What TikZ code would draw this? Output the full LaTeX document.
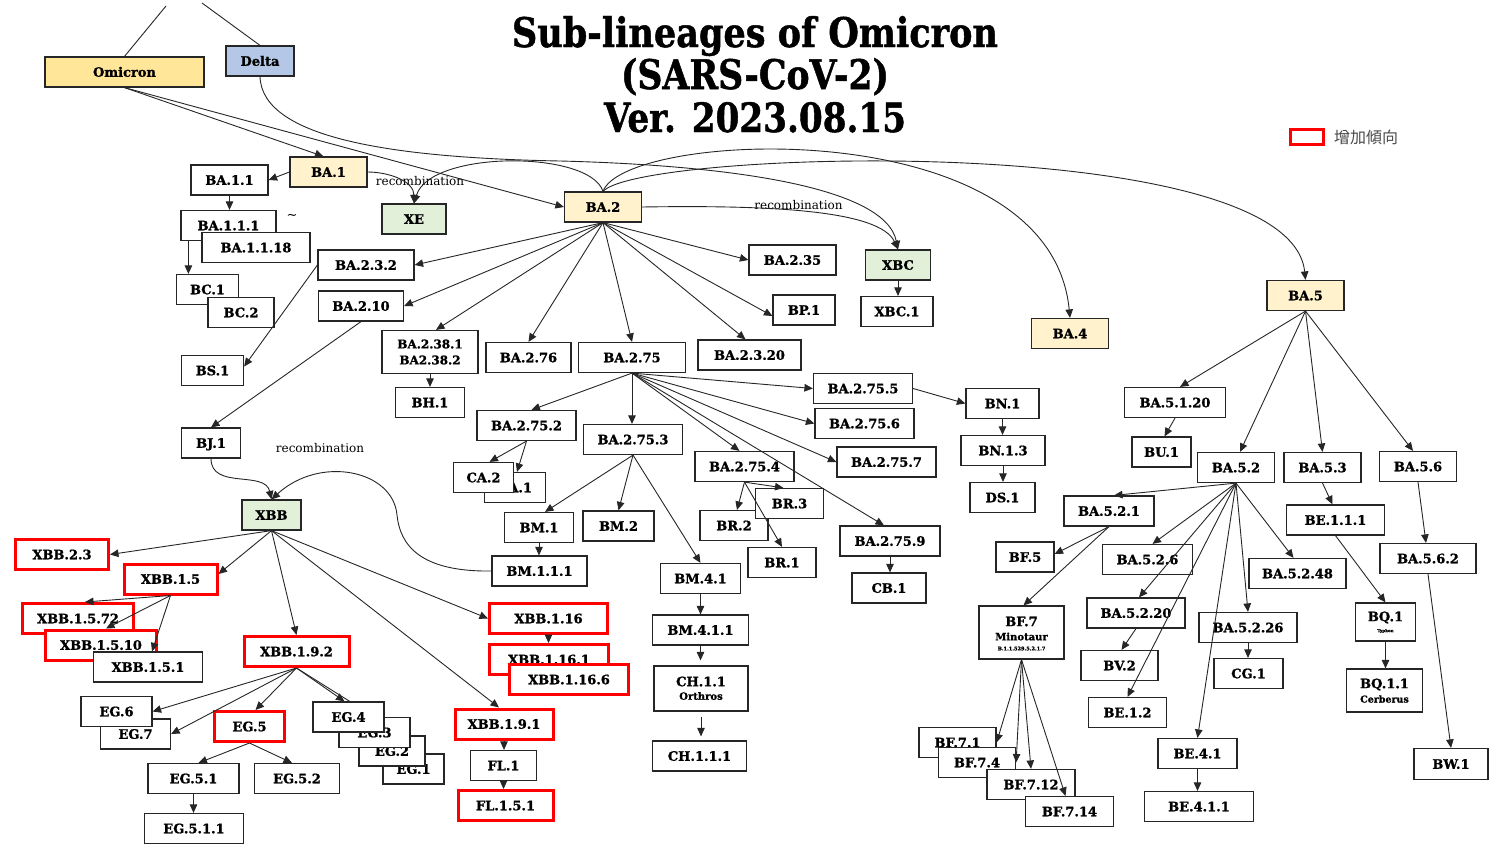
\documentclass[tikz,border=0pt]{standalone}
\usepackage{graphicx}
\usepackage{fontspec}
\setmainfont{DejaVu Serif}[BoldFeatures={FakeBold=1.2}]
\newfontfamily\cjkfont{Noto Sans CJK JP}
\usetikzlibrary{arrows.meta}
\definecolor{omicronfill}{HTML}{FFE699}
\definecolor{deltafill}{HTML}{B4C7E7}
\definecolor{basefill}{HTML}{FFF2CC}
\definecolor{recfill}{HTML}{E2F0D9}
\definecolor{edgegray}{HTML}{262626}
\definecolor{hotred}{HTML}{FF0000}
\begin{document}
\begin{tikzpicture}[x=1pt,y=-1pt,
  box/.style={draw=edgegray,line width=1.2pt,fill=white,inner sep=1pt,align=center,
    font=\bfseries\fontsize{13}{15}\selectfont},
  lbl/.style={box,minimum height=30pt,text height=9.5pt,text depth=0pt},
  mw/.style={minimum width=#1},
  hot/.style={draw=hotred,line width=3pt},
  omi/.style={fill=omicronfill},
  dlt/.style={fill=deltafill},
  major/.style={fill=basefill},
  recomb/.style={fill=recfill},
  txt/.style={inner sep=0pt,font=\bfseries\fontsize{13}{15}\selectfont},
  note/.style={inner sep=0pt,font=\fontsize{12}{14}\selectfont},
  lin/.style={draw=edgegray,line width=0.9pt},
  arr/.style={lin,-{Triangle[length=8.5pt,width=7.5pt]}}
]
\useasboundingbox (0,0) rectangle (1489,844);

% ---------- title and legend ----------
\node[anchor=base,inner sep=0pt] (title1) at (755,47)
  {\resizebox{486pt}{31pt}{\bfseries\fontsize{40}{44}\selectfont Sub-lineages of Omicron}};
\node[anchor=base,inner sep=0pt] (title2) at (755,89)
  {\resizebox{268pt}{31pt}{\bfseries\fontsize{40}{44}\selectfont (SARS-CoV-2)}};
\node[anchor=base,inner sep=0pt] (title3) at (755,132)
  {\resizebox{302pt}{30pt}{\bfseries\fontsize{40}{44}\selectfont Ver. 2023.08.15}};
\node[draw=hotred,line width=3pt,minimum width=33pt,minimum height=15pt,inner sep=0pt] (legbox) at (1306.5,136.5) {};
\node[anchor=west,inner sep=0pt,text=black!70,font=\cjkfont\fontsize{16}{18}\selectfont] (legtext) at (1334,137) {增加傾向};

% ---------- roots ----------
\node[lbl,omi,mw=159pt] (O) at (124.5,72) {Omicron};
\node[lbl,dlt,mw=68pt] (D) at (260,61) {Delta};
\coordinate (Otop) at (166,6);
\coordinate (Dtop) at (202,3);

% ---------- BA.1 branch ----------
\node[lbl,major,mw=77pt] (BA1) at (328.5,172) {BA.1};
\node[lbl,mw=77pt] (BA11) at (229.5,180) {BA.1.1};
\node[lbl,mw=95pt] (BA111) at (228.5,225.5) {BA.1.1.1};
\node[lbl,mw=108pt] (BA1118) at (256,247.5) {BA.1.1.18};
\node[note,font=\fontsize{13}{15}\selectfont] (tilde) at (292,217) {\textasciitilde};
\node[lbl,mw=62pt] (BC1) at (207.5,289.5) {BC.1};
\node[lbl,mw=66pt] (BC2) at (241,312.5) {BC.2};
\node[lbl,recomb,mw=64pt] (XE) at (414,219) {XE};
\node[note] (rec1) at (420,181) {recombination};

% ---------- BA.2 branch ----------
\node[lbl,major,mw=77pt] (BA2) at (603,207) {BA.2};
\node[lbl,mw=96pt] (BA232) at (366,265) {BA.2.3.2};
\node[lbl,mw=85pt] (BA210) at (361,306) {BA.2.10};
\node[box,mw=96pt,minimum height=43pt,font=\bfseries\fontsize{12}{16}\selectfont] (BA238) at (430,352) {BA.2.38.1\\BA2.38.2};
\node[lbl,mw=85pt] (BA276) at (528.5,357.5) {BA.2.76};
\node[lbl,mw=107pt] (BA275) at (632,357.5) {BA.2.75};
\node[lbl,mw=103pt] (BA2320) at (749.5,355) {BA.2.3.20};
\node[lbl,mw=87pt] (BA235) at (792.5,260) {BA.2.35};
\node[lbl,mw=62pt] (BP1) at (804,310) {BP.1};
\node[lbl,recomb,mw=65pt] (XBC) at (898,265) {XBC};
\node[lbl,mw=72pt] (XBC1) at (897,311.5) {XBC.1};
\node[note] (rec2) at (798.5,205) {recombination};
\node[lbl,mw=62pt] (BS1) at (212.5,370.5) {BS.1};
\node[lbl,mw=69pt] (BH1) at (430,402.5) {BH.1};
\node[lbl,mw=59pt] (BJ1) at (211,443) {BJ.1};
\node[note] (rec3) at (320,448) {recombination};

% ---------- BA.2.75 branch ----------
\node[lbl,mw=99pt] (BA2755) at (863,388.5) {BA.2.75.5};
\node[lbl,mw=99pt] (BA2756) at (864.5,423.5) {BA.2.75.6};
\node[lbl,mw=99pt] (BA2757) at (886.5,462) {BA.2.75.7};
\node[lbl,mw=99pt] (BA2752) at (526.5,425.5) {BA.2.75.2};
\node[lbl,mw=99pt] (BA2753) at (633,439.5) {BA.2.75.3};
\node[lbl,mw=99pt] (BA2754) at (744.5,466.5) {BA.2.75.4};
\node[lbl,mw=61pt] (CA1) at (515,487.5) {CA.1};
\node[lbl,mw=60pt] (CA2) at (483.5,477.5) {CA.2};
\node[lbl,mw=69pt] (BM1) at (539,527.5) {BM.1};
\node[lbl,mw=71pt] (BM2) at (618.5,526) {BM.2};
\node[lbl,mw=95pt] (BM111) at (539.5,571) {BM.1.1.1};
\node[lbl,mw=80pt] (BM41) at (700.5,578.5) {BM.4.1};
\node[lbl,mw=96pt] (BM411) at (700.5,630) {BM.4.1.1};
\node[box,mw=94pt,minimum height=45pt] (CH11) at (701,688.5) {};
\node[txt] (CH11a) at (701,681.5) {CH.1.1};
\node[txt,font=\bfseries\fontsize{10}{12}\selectfont] (CH11b) at (701,696) {Orthros};
\node[lbl,mw=94pt] (CH111) at (699.5,756) {CH.1.1.1};
\node[lbl,mw=68pt] (BR2) at (734,525.5) {BR.2};
\node[lbl,mw=68pt] (BR3) at (789.5,503.5) {BR.3};
\node[lbl,mw=68pt] (BR1) at (782,562.5) {BR.1};
\node[lbl,mw=100pt] (BA2759) at (890,541) {BA.2.75.9};
\node[lbl,mw=74pt] (CB1) at (889,588) {CB.1};
\node[lbl,mw=73pt] (BN1) at (1002.5,403.5) {BN.1};
\node[lbl,mw=84pt] (BN13) at (1003,450.5) {BN.1.3};
\node[lbl,mw=65pt] (DS1) at (1002.5,497.5) {DS.1};

% ---------- XBB branch ----------
\node[lbl,recomb,mw=59pt] (XBB) at (271.5,515) {XBB};
\node[lbl,hot,mw=93pt] (XBB23) at (62,554.5) {XBB.2.3};
\node[lbl,hot,mw=93pt] (XBB15) at (170.5,579) {XBB.1.5};
\node[lbl,hot,mw=111pt] (XBB1572) at (78,618.5) {XBB.1.5.72};
\node[lbl,hot,mw=111pt] (XBB1510) at (101,645) {XBB.1.5.10};
\node[lbl,mw=109pt] (XBB151) at (148,667) {XBB.1.5.1};
\node[lbl,hot,mw=105pt] (XBB192) at (296.5,651.5) {XBB.1.9.2};
\node[lbl,mw=70pt] (EG7) at (135.5,734) {EG.7};
\node[lbl,mw=71pt] (EG6) at (116.5,711.5) {EG.6};
\node[lbl,hot,mw=70pt] (EG5) at (249.5,726.5) {EG.5};
\node[lbl,mw=61pt] (EG1) at (413.5,769) {EG.1};
\node[lbl,mw=66pt] (EG2) at (392,751) {EG.2};
\node[lbl,mw=71pt] (EG3) at (374.5,732.5) {EG.3};
% this connector is meant to run underneath EG.4
\draw[arr] (XBB192.south) -- (EG3.north);
\node[lbl,mw=71pt] (EG4) at (348.5,717) {EG.4};
\node[lbl,mw=91pt] (EG51) at (193.5,778.5) {EG.5.1};
\node[lbl,mw=85pt] (EG52) at (297,778.5) {EG.5.2};
\node[lbl,mw=99pt] (EG511) at (194,828.5) {EG.5.1.1};
\node[lbl,hot,mw=118pt] (XBB116) at (548.5,618.5) {XBB.1.16};
\node[lbl,hot,mw=119pt] (XBB1161) at (549,659.5) {XBB.1.16.1};
\node[lbl,hot,mw=119pt] (XBB1166) at (569,679.5) {XBB.1.16.6};
\node[lbl,hot,mw=98pt] (XBB191) at (504,724) {XBB.1.9.1};
\node[lbl,mw=66pt] (FL1) at (503.5,765.5) {FL.1};
\node[lbl,hot,mw=95pt] (FL151) at (505.5,805.5) {FL.1.5.1};

% ---------- BA.4 / BA.5 branch ----------
\node[lbl,major,mw=77pt] (BA4) at (1070,333.5) {BA.4};
\node[lbl,major,mw=77pt] (BA5) at (1305.5,295.5) {BA.5};
\node[lbl,mw=101pt] (BA5120) at (1175,402.5) {BA.5.1.20};
\node[lbl,mw=59pt] (BU1) at (1161.5,452) {BU.1};
\node[lbl,mw=77pt] (BA52) at (1236,467.5) {BA.5.2};
\node[lbl,mw=77pt] (BA53) at (1322.5,467.5) {BA.5.3};
\node[lbl,mw=77pt] (BA56) at (1418,466.5) {BA.5.6};
\node[lbl,mw=90pt] (BA521) at (1109,511) {BA.5.2.1};
\node[lbl,mw=98pt] (BE111) at (1335.5,520) {BE.1.1.1};
\node[lbl,mw=58pt] (BF5) at (1025,557) {BF.5};
\node[lbl,mw=90pt] (BA526) at (1147.5,559.5) {BA.5.2.6};
\node[lbl,mw=97pt] (BA5248) at (1297.5,573.5) {BA.5.2.48};
\node[lbl,mw=96pt] (BA562) at (1428,558.5) {BA.5.6.2};
\node[box,mw=85pt,minimum height=53pt] (BF7) at (1021.5,632.5) {};
\node[txt] (BF7a) at (1021.5,621.5) {BF.7};
\node[txt,font=\bfseries\fontsize{10}{12}\selectfont] (BF7b) at (1021.5,636.5) {Minotaur};
\node[txt,font=\bfseries\fontsize{5}{6}\selectfont] (BF7c) at (1021.5,648.5) {B.1.1.529.5.2.1.7};
\node[lbl,mw=98pt] (BA5220) at (1136,613) {BA.5.2.20};
\node[lbl,mw=77pt] (BV2) at (1119.5,665.5) {BV.2};
\node[lbl,mw=78pt] (BE12) at (1127.5,712.5) {BE.1.2};
\node[lbl,mw=98pt] (BA5226) at (1248,627.5) {BA.5.2.26};
\node[lbl,mw=69pt] (CG1) at (1248.5,673.5) {CG.1};
\node[box,mw=60pt,minimum height=38pt] (BQ1) at (1385.5,622) {};
\node[txt] (BQ1a) at (1385.5,617.5) {BQ.1};
\node[txt,font=\bfseries\fontsize{4}{5}\selectfont] (BQ1b) at (1385.5,631) {Typhon};
\node[box,mw=76pt,minimum height=43pt] (BQ11) at (1384.5,690.5) {};
\node[txt] (BQ11a) at (1384.5,684.5) {BQ.1.1};
\node[txt,font=\bfseries\fontsize{9.5}{11}\selectfont] (BQ11b) at (1384.5,699) {Cerberus};
\node[lbl,mw=74pt,minimum height=31pt] (BW1) at (1451,764) {BW.1};
\node[lbl,mw=79pt] (BE41) at (1197.5,753.5) {BE.4.1};
\node[lbl,mw=109pt] (BE411) at (1199,806.5) {BE.4.1.1};
\node[lbl,mw=77pt] (BF71) at (957.5,742.5) {BF.7.1};
\node[lbl,mw=77pt] (BF74) at (977,762.5) {BF.7.4};
\node[lbl,mw=88pt] (BF712) at (1031,784.5) {BF.7.12};
\node[lbl,mw=88pt] (BF714) at (1069.5,811.5) {BF.7.14};

% ---------- connectors ----------
\draw[lin] (O.north) -- (Otop);
\draw[lin] (D.north) -- (Dtop);
\draw[arr] (O.south) -- ([xshift=-5pt]BA1.north);
\draw[arr] (O.south) -- (BA2.west);
\draw[arr] (D.south) .. controls (262,140) and (400,158) .. (560,161)
  .. controls (720,165) and (885,185) .. (XBC.north);
\draw[arr] (BA1.west) -- (BA11.east);
\draw[arr] (BA1.east) to[out=0,in=90] (XE.north);
\draw[arr] (BA2.north) .. controls (590,150) and (430,150) .. (XE.north);
\draw[arr] (BA2.east) .. controls (770,205) and (880,210) .. (XBC.north);
\draw[arr] (BA2.north) .. controls (625,130) and (1050,110) .. (BA4.north);
\draw[arr] (BA2.north) .. controls (640,150) and (1290,130) .. (BA5.north);
\draw[arr] (BA11.south) -- (BA11.south |- BA111.north);
\draw[arr] ([xshift=8pt]BA111.south west) -- ([xshift=8pt]BA111.south west |- BC1.north);

\draw[arr] (BA2.south) -- (BA232.east);
\draw[arr] (BA2.south) -- (BA210.east);
\draw[arr] (BA2.south) -- ([xshift=6pt]BA238.north);
\draw[arr] (BA2.south) -- (BA276.north);
\draw[arr] (BA2.south) -- (BA275.north);
\draw[arr] (BA2.south) -- ([xshift=-4pt]BA2320.north);
\draw[arr] (BA2.south) -- ([yshift=-6pt]BP1.west);
\draw[arr] (BA2.south) -- (BA235.west);
\draw[arr] (XBC.south) -- (XBC.south |- XBC1.north);
\draw[arr] (BA232.west) -- ([yshift=4pt]BS1.east);
\draw[arr] (BA210.south) -- (BJ1.north);
\draw[arr] (BA238.south) -- (BA238.south |- BH1.north);
\draw[arr] (BJ1.south) .. controls (211,490) and (265,470) .. (XBB.north);
\draw[arr] (BM111.west) .. controls (420,572) and (400,545) .. (397,515)
  .. controls (393,470) and (320,455) .. (XBB.north);

\draw[arr] (BA275.south) -- ([xshift=5pt]BA2752.north);
\draw[arr] (BA275.south) -- (BA275.south |- BA2753.north);
\draw[arr] (BA275.south) -- ([xshift=-5pt]BA2754.north);
\draw[arr] (BA275.south) -- (BA2755.west);
\draw[arr] (BA275.south) -- (BA2756.west);
\draw[arr] (BA275.south) -- (BA2757.west);
\draw[arr] (BA275.south) -- ([xshift=-6pt]BA2759.north);
\draw[arr] (BA2752.south) -- ([xshift=6pt]CA2.north);
\draw[arr] (BA2752.south) -- ([xshift=2pt]CA1.north);
\draw[arr] (BA2753.south) -- ([xshift=6pt]BM1.north);
\draw[arr] (BA2753.south) -- (BM2.north);
\draw[arr] (BA2753.south) -- (BM41.north);
\draw[arr] (BM1.south) -- (BM1.south |- BM111.north);
\draw[arr] (BM41.south) -- (BM41.south |- BM411.north);
\draw[arr,shorten >=5pt] (BM411.south) -- (BM411.south |- CH11.north);
\draw[arr,shorten <=5pt,shorten >=4pt] (CH11.south) -- (CH11.south |- CH111.north);
\draw[arr] (BA2754.south) -- ([xshift=3pt]BR2.north);
\draw[arr] (BA2754.south) -- ([xshift=-6pt]BR3.north);
\draw[arr] (BA2754.south) -- (BR1.north);
\draw[arr] (BA2759.south) -- (BA2759.south |- CB1.north);
\draw[arr] (BA2755.east) -- (BN1.west);
\draw[arr] (BN1.south) -- (BN1.south |- BN13.north);
\draw[arr] (BN13.south) -- (BN13.south |- DS1.north);

\draw[arr] (XBB.south) -- (XBB23.east);
\draw[arr] (XBB.south) -- ([yshift=5pt]XBB15.east);
\draw[arr] (XBB.south) -- (XBB192.north);
\draw[arr] (XBB.south) -- (XBB116.west);
\draw[arr] (XBB.south) -- ([xshift=-5pt]XBB191.north);
\draw[arr] (XBB15.south) -- ([xshift=7pt]XBB1572.north);
\draw[arr] (XBB15.south) -- ([xshift=5pt]XBB1510.north);
\draw[arr] (XBB15.south) -- ([xshift=4pt]XBB151.north);
\draw[arr] (XBB192.south) -- (EG6.east);
\draw[arr] (XBB192.south) -- (EG7.east);
\draw[arr] (XBB192.south) -- ([xshift=6pt]EG5.north);
\draw[arr] (XBB192.south) -- ([xshift=-4pt]EG4.north);
\draw[arr] (EG5.south) -- ([xshift=5pt]EG51.north);
\draw[arr] (EG5.south) -- ([xshift=-5pt]EG52.north);
\draw[arr] (EG51.south) -- (EG51.south |- EG511.north);
\draw[arr] (XBB116.south) -- (XBB116.south |- XBB1161.north);
\draw[arr] (XBB191.south) -- (XBB191.south |- FL1.north);
\draw[arr] (FL1.south) -- (FL1.south |- FL151.north);

\draw[arr] (BA5.south) -- ([xshift=5pt]BA5120.north);
\draw[arr] (BA5.south) -- ([xshift=4pt]BA52.north);
\draw[arr] (BA5.south) -- (BA53.north);
\draw[arr] (BA5.south) -- ([xshift=-5pt]BA56.north);
\draw[arr] (BA5120.south) -- ([xshift=3pt]BU1.north);
\draw[arr] (BA52.south) -- ([xshift=5pt]BA521.north);
\draw[arr] (BA52.south) -- ([xshift=5pt]BA526.north);
\draw[arr] (BA52.south) -- ([xshift=-4pt]BA5248.north);
\draw[arr] (BA52.south) -- ([xshift=3pt]BA5220.north);
\draw[arr] (BA52.south) -- (BE12.north);
\draw[arr] (BA52.south) -- (BE41.north);
\draw[arr] (BA52.south) -- (BA5226.north);
\draw[arr] (BA521.south) -- ([yshift=3pt]BF5.east);
\draw[arr] (BA521.south) -- ([xshift=2pt]BF7.north);
\draw[arr] (BA5220.south) -- ([xshift=2pt]BV2.north);
\draw[arr] (BA5226.south) -- (BA5226.south |- CG1.north);
\draw[arr] (BA53.south) -- ([xshift=-3pt]BE111.north);
\draw[arr] (BE111.south) -- (BQ1.north);
\draw[arr] (BQ1.south) -- (BQ1.south |- BQ11.north);
\draw[arr] (BA56.south) -- ([xshift=-2pt]BA562.north);
\draw[arr] (BA562.south) -- (BW1.north);
\draw[arr] (BE41.south) -- (BE41.south |- BE411.north);
\draw[arr] (BF7.south) -- (BF71.east);
\draw[arr] (BF7.south) -- (BF74.east);
\draw[arr] (BF7.south) -- (BF712.north);
\draw[arr] (BF7.south) -- ([xshift=-4pt]BF714.north);
\end{tikzpicture}
\end{document}
